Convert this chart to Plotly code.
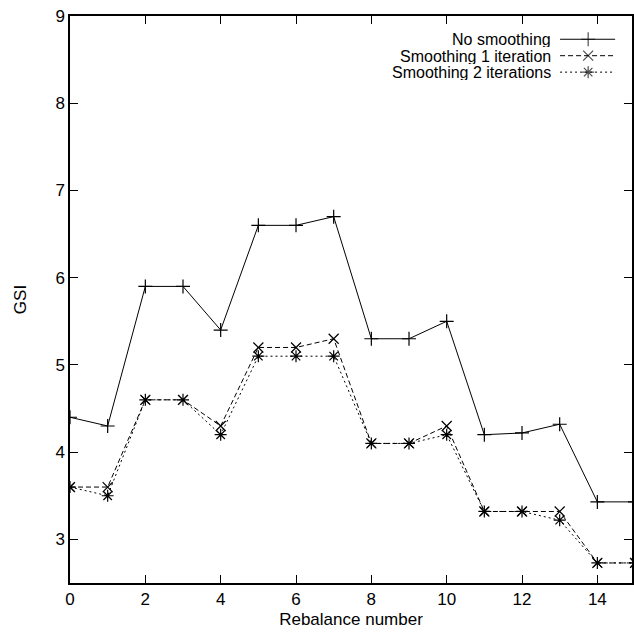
import plotly.graph_objects as go

rebalance = list(range(16))
no_smoothing = [4.4, 4.3, 5.9, 5.9, 5.4, 6.6, 6.6, 6.7, 5.3, 5.3, 5.5, 4.2, 4.22, 4.32, 3.43, 3.43]
smooth_1 = [3.6, 3.6, 4.6, 4.6, 4.3, 5.2, 5.2, 5.3, 4.1, 4.1, 4.3, 3.32, 3.32, 3.32, 2.73, 2.73]
smooth_2 = [3.6, 3.5, 4.6, 4.6, 4.2, 5.1, 5.1, 5.1, 4.1, 4.1, 4.2, 3.32, 3.32, 3.22, 2.73, 2.73]

series_names = ["No smoothing", "Smoothing 1 iteration", "Smoothing 2 iterations"]
series_values = [no_smoothing, smooth_1, smooth_2]
dashes = ["solid", "5px,3px", "2px,3px"]
symbols = ["cross-thin-open", "x-thin-open", "asterisk-open"]

FONT = "Liberation Sans, Arial, Helvetica, sans-serif"

fig = go.Figure()
for name, vals, dash, sym in zip(series_names, series_values, dashes, symbols):
    fig.add_trace(go.Scatter(
        x=rebalance, y=vals, name=name, mode="lines+markers",
        line=dict(color="black", width=1, dash=dash),
        marker=dict(symbol=sym, size=10, color="black", line=dict(color="black", width=1.2)),
        showlegend=False,
    ))

# custom gnuplot-style legend (text on the left, key sample on the right)
leg_rows = [0.959, 0.930, 0.901]
for name, dash, sym, yy in zip(series_names, dashes, symbols, leg_rows):
    fig.add_trace(go.Scatter(
        x=[0.872, 0.922, 0.970], y=[yy, yy, yy], xaxis="x2", yaxis="y2",
        mode="lines+markers", showlegend=False, hoverinfo="skip",
        line=dict(color="black", width=1, dash=dash),
        marker=dict(symbol=sym, size=[0, 10, 0], color="black", line=dict(color="black", width=1.2)),
    ))
    fig.add_annotation(
        xref="paper", yref="paper", x=0.857, y=yy, text=name, showarrow=False,
        xanchor="right", yanchor="middle", height=16, borderpad=0,
        font=dict(family=FONT, size=16, color="black"),
    )

fig.update_layout(
    width=634, height=632,
    margin=dict(l=70, r=0, t=16, b=49),
    paper_bgcolor="white", plot_bgcolor="white",
    font=dict(family=FONT, size=17, color="black"),
    xaxis=dict(
        range=[0, 14.92], tickmode="linear", tick0=0, dtick=2,
        showgrid=False, zeroline=False, showline=True, linecolor="black", linewidth=1.5,
        mirror="ticks", ticks="inside", ticklen=8, tickcolor="black",
        title=dict(text="Rebalance number", standoff=5, font=dict(size=17)),
        tickfont=dict(size=17),
    ),
    yaxis=dict(
        range=[2.5, 9], tickmode="linear", tick0=3, dtick=1,
        showgrid=False, zeroline=False, showline=True, linecolor="black", linewidth=1.5,
        mirror="ticks", ticks="inside", ticklen=8, tickcolor="black",
        title=dict(text="GSI", standoff=24, font=dict(size=17)),
        tickfont=dict(size=17),
    ),
    xaxis2=dict(range=[0, 1], overlaying="x", visible=False),
    yaxis2=dict(range=[0, 1], overlaying="y", visible=False),
)

fig.write_html("out.html")
